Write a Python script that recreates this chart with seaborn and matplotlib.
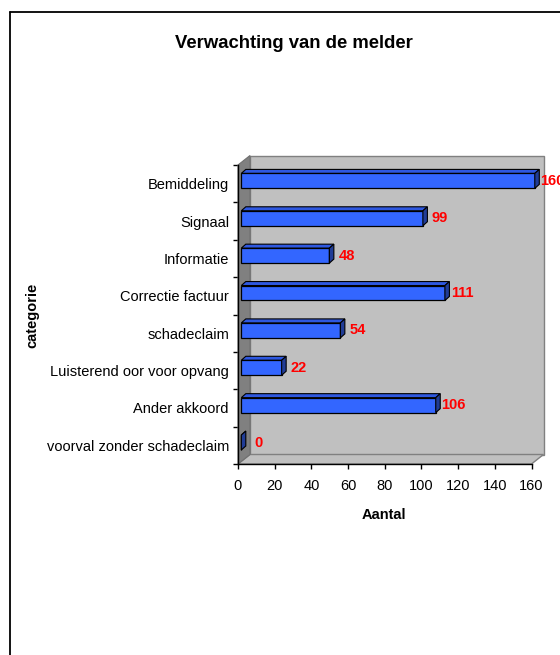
import matplotlib
matplotlib.use("Agg")
import matplotlib.pyplot as plt
from matplotlib.patches import Polygon
from matplotlib.lines import Line2D
from matplotlib.transforms import ScaledTranslation
import seaborn as sns
import pandas as pd

# --- data ---
categories = [
    "Bemiddeling",
    "Signaal",
    "Informatie",
    "Correctie factuur",
    "schadeclaim",
    "Luisterend oor voor opvang",
    "Ander akkoord",
    "voorval zonder schadeclaim",
]
counts = [160, 99, 48, 111, 54, 22, 106, 0]
x_ticks = [0, 20, 40, 60, 80, 100, 120, 140, 160]

df = pd.DataFrame({"categorie": categories, "Aantal": counts})

sns.set_theme(style="white")
plt.rcParams["font.family"] = ["Liberation Sans", "DejaVu Sans"]

W, H, DPI = 560, 655, 100
fig = plt.figure(figsize=(W / DPI, H / DPI), dpi=DPI)
fig.patch.set_facecolor("white")

# axes geometry in pixels (front plane of the 3-D box)
ax_l, ax_r, ax_t, ax_b = 238, 531.5, 165, 464
ax = fig.add_axes([ax_l / W, 1 - ax_b / H, (ax_r - ax_l) / W, (ax_b - ax_t) / H])
ax.set_facecolor("none")

xmax = x_ticks[-1]
n = len(categories)
px_per_x = (ax_r - ax_l) / xmax
px_per_cat = (ax_b - ax_t) / n


def shift(x, y, off):
    """Move a data point by a pixel offset (right, up)."""
    return (x + off[0] / px_per_x, y - off[1] / px_per_cat)


WALL = (12, 9.5)       # depth of the back wall
FRONT = (3.3, 2.8)     # depth of the bar front faces
BACK = (7.8, 6.8)      # depth of the bar back faces
bar_w = 0.4

# walls and floor
y_top, y_bot = -0.5, n - 0.5
back_wall = [shift(0, y_top, WALL), shift(xmax, y_top, WALL),
             shift(xmax, y_bot, WALL), shift(0, y_bot, WALL)]
side_wall = [(0, y_bot), (0, y_top), shift(0, y_top, WALL), shift(0, y_bot, WALL)]
floor = [(0, y_bot), (xmax, y_bot), shift(xmax, y_bot, WALL), shift(0, y_bot, WALL)]
ax.add_patch(Polygon(back_wall, closed=True, facecolor="#C0C0C0",
                     edgecolor="#808080", linewidth=1, zorder=0.5, clip_on=False))
ax.add_patch(Polygon(floor, closed=True, facecolor="#C0C0C0",
                     edgecolor="#808080", linewidth=1, zorder=0.6, clip_on=False))
ax.add_patch(Polygon(side_wall, closed=True, facecolor="#808080",
                     edgecolor="#707070", linewidth=0.8, zorder=0.6, clip_on=False))

# front faces of the bars
sns.barplot(data=df, x="Aantal", y="categorie", orient="h", width=bar_w,
            color="#3366FF", saturation=1, edgecolor="black", linewidth=0.9,
            ax=ax, zorder=3)
front_tr = ax.transData + ScaledTranslation(FRONT[0] / DPI, FRONT[1] / DPI,
                                            fig.dpi_scale_trans)
for p in ax.patches:
    if p.get_zorder() == 3:
        p.set_transform(front_tr)
        p.set_clip_on(False)

# top faces, end caps and value labels
for i, v in enumerate(counts):
    y0, y1 = i - bar_w / 2, i + bar_w / 2
    top = [shift(0, y0, FRONT), shift(v, y0, FRONT), shift(v, y0, BACK), shift(0, y0, BACK)]
    cap = [shift(v, y0, FRONT), shift(v, y1, FRONT), shift(v, y1, BACK), shift(v, y0, BACK)]
    ax.add_patch(Polygon(top, closed=True, facecolor="#2E58E0", edgecolor="black",
                         linewidth=0.8, zorder=2.8, clip_on=False))
    ax.add_patch(Polygon(cap, closed=True, facecolor="#203C96", edgecolor="black",
                         linewidth=0.8, zorder=3.2, clip_on=False))
    ax.annotate(str(v), (v, i), xytext=(20.5 * 0.72, FRONT[1] * 0.72),
                textcoords="offset points", ha="center", va="center",
                color="#FF0000", fontweight="bold", fontsize=10.5,
                annotation_clip=False, zorder=5)

ax.set_xlim(0, xmax)
ax.set_ylim(y_bot, y_top)
ax.set_xticks(x_ticks)
ax.set_xticklabels([str(t) for t in x_ticks])
ax.set_yticks([b - 0.5 for b in range(n + 1)], minor=True)

for s in ["top", "right"]:
    ax.spines[s].set_visible(False)
for s in ["left", "bottom"]:
    ax.spines[s].set_color("black")
    ax.spines[s].set_linewidth(1.0)
    ax.spines[s].set_zorder(4)

ax.tick_params(axis="y", which="major", length=0, pad=6.5, labelsize=10.5,
               labelcolor="black")
ax.tick_params(axis="y", which="minor", left=True, length=3.6, width=1,
               color="black", direction="out")
ax.tick_params(axis="x", which="major", bottom=True, length=3.6, width=1,
               color="black", direction="out", pad=7.5, labelsize=10.5,
               labelcolor="black")
ax.set_xlabel("")
ax.set_ylabel("")

fig.text(294 / W, 1 - 43 / H, "Verwachting van de melder", ha="center",
         va="center", fontsize=13.3, fontweight="bold", color="black")
fig.text(384 / W, 1 - 515 / H, "Aantal", ha="center", va="center",
         fontsize=10.5, fontweight="bold", color="black")
fig.text(32 / W, 1 - 315 / H, "categorie", ha="center", va="center",
         rotation=90, fontsize=10.5, fontweight="bold", color="black")

# chart-area border (left and top edges)
fx, fy = 10 / W, 1 - 12 / H
fig.add_artist(Line2D([fx, fx], [0, fy], color="black", linewidth=1.3))
fig.add_artist(Line2D([fx, 1], [fy, fy], color="black", linewidth=1.3))

fig.savefig("out.png", dpi=DPI)
